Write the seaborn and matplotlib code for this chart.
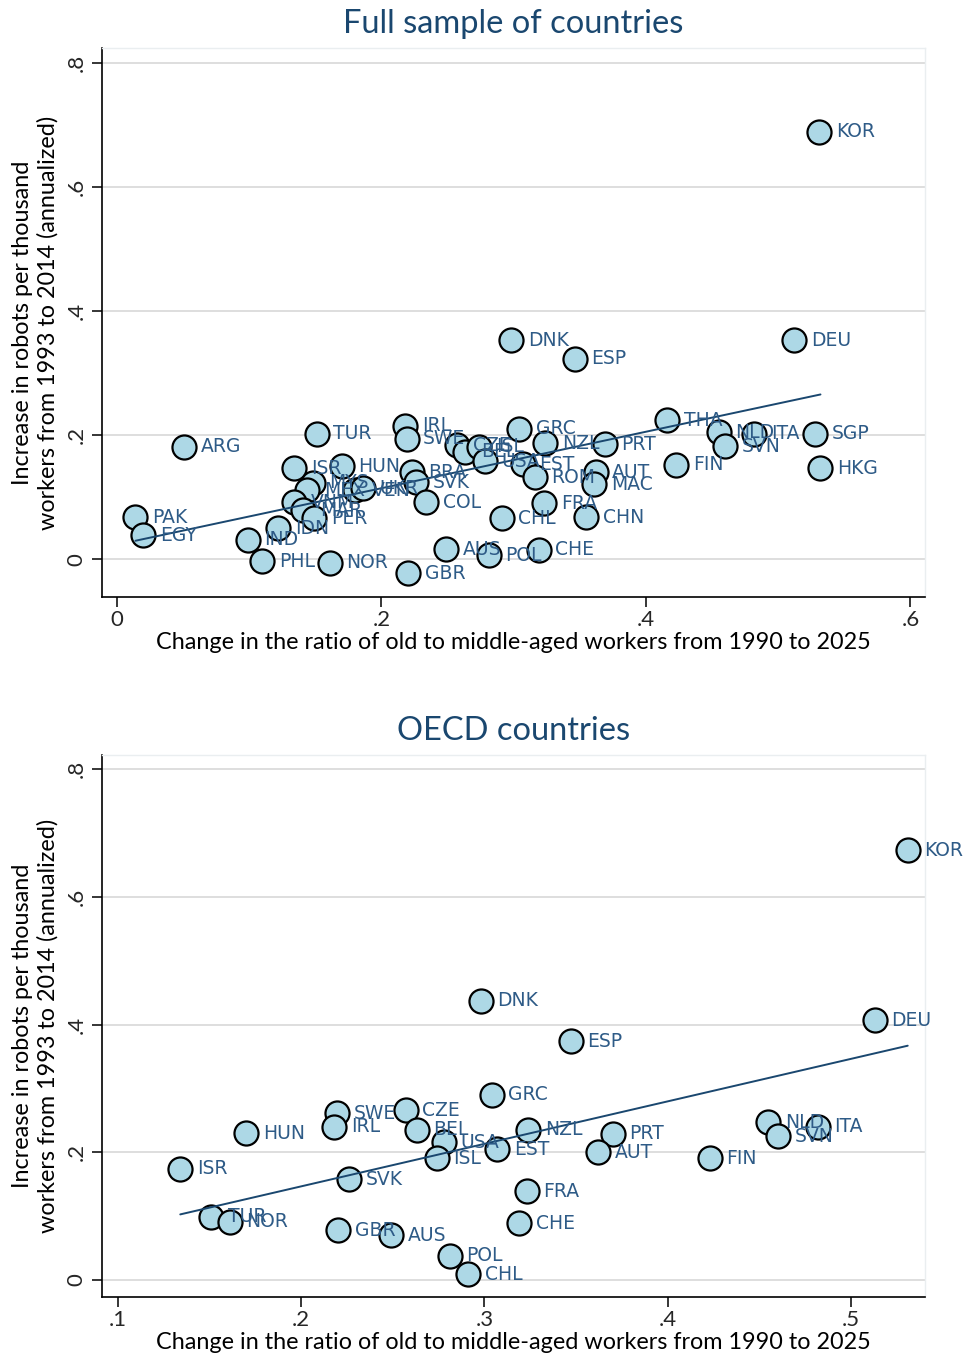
import matplotlib
matplotlib.use("Agg")
import matplotlib.pyplot as plt
from matplotlib import font_manager
import seaborn as sns
import pandas as pd

# Full sample: change in old/middle-aged ratio (x) vs. robot adoption (y)
full_codes = ["KOR", "DEU", "DNK", "ESP", "ARG", "TUR", "IRL", "SWE", "CZE", "BEL",
              "ISL", "USA", "EST", "GRC", "NZL", "PRT", "THA", "NLD", "SVN", "ITA",
              "SGP", "HKG", "FIN", "AUT", "MAC", "ROM", "FRA", "CHN", "CHL", "CHE",
              "POL", "AUS", "GBR", "NOR", "PHL", "IND", "IDN", "PAK", "EGY", "ISR",
              "HUN", "MYS", "MEX", "VNM", "MAR", "PER", "VEN", "UKR", "BRA", "SVK",
              "COL"]
full_x = [0.531, 0.512, 0.298, 0.346, 0.051, 0.151, 0.218, 0.219, 0.257, 0.263,
          0.274, 0.278, 0.307, 0.304, 0.324, 0.369, 0.416, 0.455, 0.460, 0.482,
          0.528, 0.532, 0.423, 0.362, 0.361, 0.316, 0.323, 0.355, 0.291, 0.319,
          0.281, 0.249, 0.220, 0.161, 0.110, 0.099, 0.122, 0.014, 0.020, 0.134,
          0.170, 0.148, 0.144, 0.134, 0.141, 0.149, 0.180, 0.186, 0.223, 0.226,
          0.234]
full_y = [0.689, 0.353, 0.353, 0.323, 0.181, 0.202, 0.215, 0.194, 0.184, 0.173,
          0.181, 0.158, 0.153, 0.210, 0.187, 0.185, 0.224, 0.205, 0.182, 0.202,
          0.202, 0.147, 0.152, 0.140, 0.121, 0.132, 0.090, 0.068, 0.066, 0.015,
          0.006, 0.016, -0.023, -0.006, -0.003, 0.031, 0.050, 0.068, 0.039, 0.147,
          0.150, 0.123, 0.111, 0.092, 0.079, 0.066, 0.111, 0.114, 0.140, 0.124,
          0.092]

# OECD subsample
oecd_codes = ["KOR", "DEU", "DNK", "ESP", "GRC", "HUN", "SWE", "IRL", "CZE", "BEL",
              "USA", "ISL", "EST", "NZL", "PRT", "AUT", "FIN", "NLD", "SVN", "ITA",
              "ISR", "SVK", "FRA", "CHE", "TUR", "NOR", "GBR", "AUS", "POL", "CHL"]
oecd_x = [0.531, 0.513, 0.298, 0.347, 0.304, 0.170, 0.2195, 0.218, 0.257, 0.263,
          0.278, 0.274, 0.307, 0.324, 0.370, 0.362, 0.423, 0.455, 0.460, 0.482,
          0.134, 0.226, 0.323, 0.319, 0.151, 0.161, 0.220, 0.249, 0.281, 0.291]
oecd_y = [0.673, 0.407, 0.437, 0.374, 0.290, 0.230, 0.261, 0.240, 0.266, 0.235,
          0.216, 0.191, 0.205, 0.235, 0.229, 0.200, 0.191, 0.247, 0.225, 0.240,
          0.174, 0.158, 0.139, 0.089, 0.099, 0.091, 0.078, 0.070, 0.038, 0.009]

x_ticks_full = [0, 0.2, 0.4, 0.6]
x_labels_full = ["0", ".2", ".4", ".6"]
x_ticks_oecd = [0.1, 0.2, 0.3, 0.4, 0.5]
x_labels_oecd = [".1", ".2", ".3", ".4", ".5"]
y_ticks = [0, 0.2, 0.4, 0.6, 0.8]
y_labels = ["0", ".2", ".4", ".6", ".8"]

sns.set_theme(style="white")
installed = {f.name for f in font_manager.fontManager.ttflist}
axis_font = "Liberation Sans Narrow" if "Liberation Sans Narrow" in installed else "Lato"
plt.rcParams["font.family"] = ["DejaVu Sans"]

NAVY = "#1a476f"
LABEL = "#2e5b87"
GRID = "#d4d4d4"

fig = plt.figure(figsize=(9.67, 13.6), dpi=100)
ax1 = fig.add_axes([0.1055, 0.561, 0.851, 0.4037])
ax2 = fig.add_axes([0.1055, 0.0463, 0.851, 0.3985])

x_title = "Change in the ratio of old to middle-aged workers from 1990 to 2025"
y_title = "Increase in robots per thousand\nworkers from 1993 to 2014 (annualized)"


def draw(ax, codes, xs, ys, title, xticks, xlabels, xlim, ylim):
    df = pd.DataFrame({"code": codes, "x": xs, "y": ys})
    for yt in y_ticks:
        ax.axhline(yt, color=GRID, lw=1.1, zorder=0)
    sns.scatterplot(data=df, x="x", y="y", ax=ax, s=300, color="#add8e6",
                    edgecolor="black", linewidth=1.6, zorder=3, legend=False)
    sns.regplot(data=df, x="x", y="y", ax=ax, scatter=False, ci=None,
                line_kws={"color": NAVY, "lw": 1.4, "zorder": 4})
    for c, xv, yv in zip(df["code"], df["x"], df["y"]):
        ax.annotate(c, (xv, yv), xytext=(12, 0), textcoords="offset points",
                    va="center", ha="left", fontsize=13.5, color=LABEL, zorder=5)
    ax.set_xlim(*xlim)
    ax.set_ylim(*ylim)
    ax.set_xticks(xticks)
    ax.set_xticklabels(xlabels, family=axis_font, fontsize=16)
    ax.set_yticks(y_ticks)
    ax.set_yticklabels(y_labels, family=axis_font, fontsize=16, rotation=90,
                       va="center")
    ax.tick_params(axis="x", which="major", direction="out", length=7,
                   width=1.1, color="black", bottom=True, pad=2)
    ax.tick_params(axis="y", which="major", direction="out", length=7,
                   width=1.1, color="black", left=True, pad=4)
    ax.set_xlabel(x_title, family=axis_font, fontsize=16.8, color="black", labelpad=2)
    ax.set_ylabel(y_title, family=axis_font, fontsize=16.8, color="black",
                  labelpad=6, linespacing=1.2)
    ax.set_title(title, family=axis_font, fontsize=23.5, color=NAVY, pad=11)
    for side in ["left", "bottom"]:
        ax.spines[side].set_color("black")
        ax.spines[side].set_linewidth(1.2)
    for side in ["top", "right"]:
        ax.spines[side].set_color("#eaeef0")
        ax.spines[side].set_linewidth(1.0)


draw(ax1, full_codes, full_x, full_y, "Full sample of countries",
     x_ticks_full, x_labels_full, (-0.0113, 0.611), (-0.061, 0.824))
draw(ax2, oecd_codes, oecd_x, oecd_y, "OECD countries",
     x_ticks_oecd, x_labels_oecd, (0.0913, 0.5404), (-0.0266, 0.822))

fig.savefig("out.png", dpi=100, facecolor="white")
